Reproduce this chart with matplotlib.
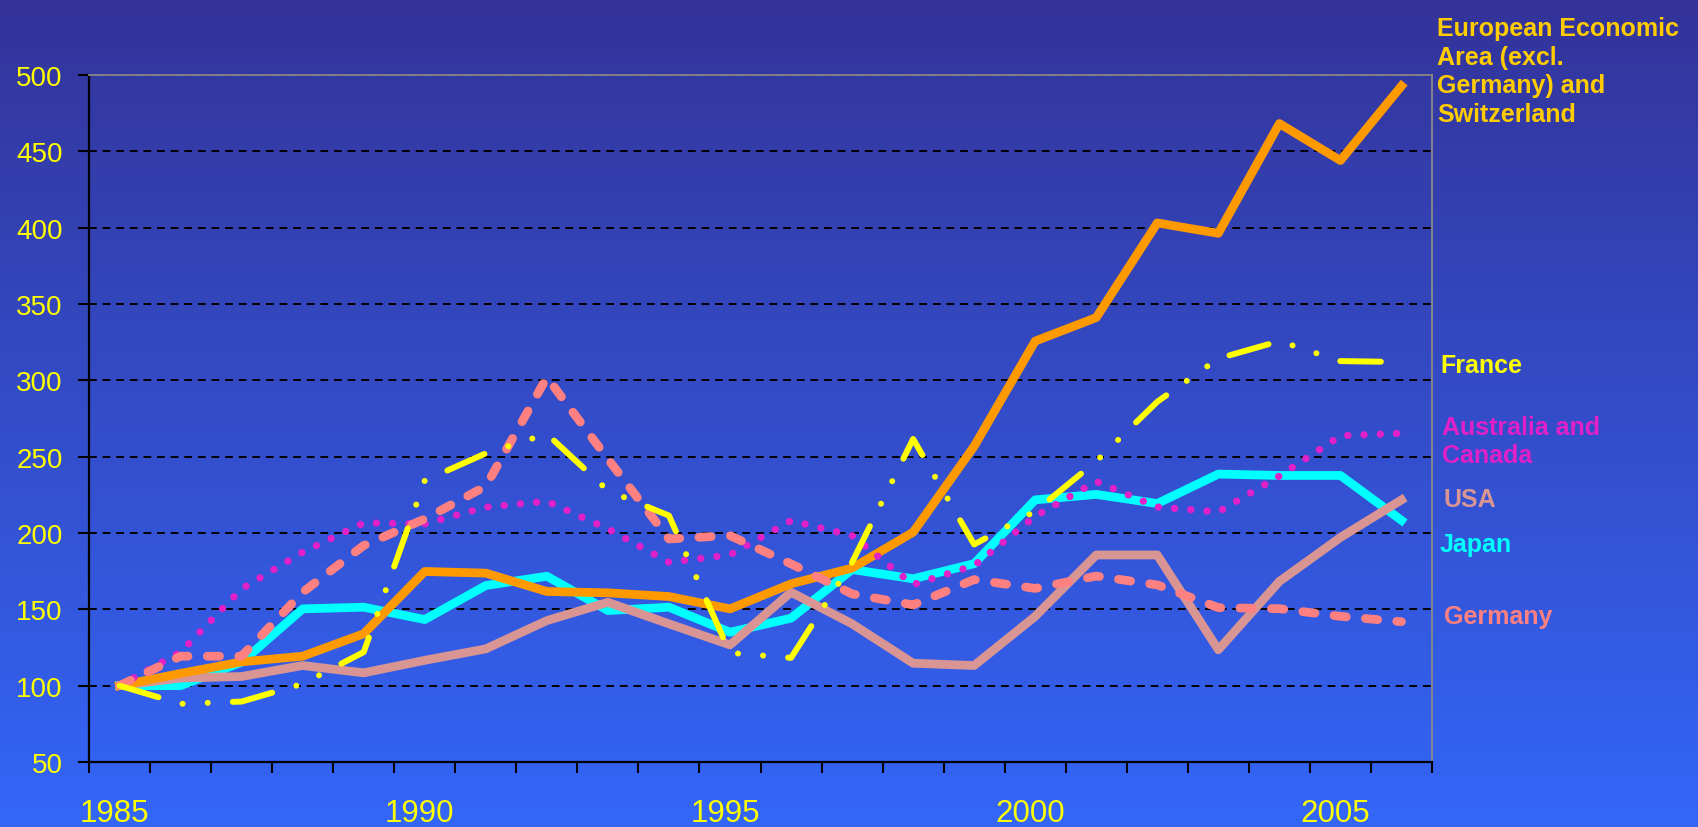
import numpy as np
import matplotlib.pyplot as plt
import matplotlib.transforms as mtransforms
from matplotlib.colors import LinearSegmentedColormap

plt.rcParams['font.family'] = ['Liberation Sans', 'DejaVu Sans']

years = list(range(1985, 2007))
eea = [100, 108, 115.6, 119.3, 134, 174.8, 173.7, 161.7, 160.8, 158.4, 150.3,
       166.7, 177, 200.5, 256.8, 325.7, 341.1, 403.1, 396.3, 468.2, 444, 492.8]
france = [100, 88.1, 89.6, 101.2, 122, 234.3, 252.2, 264.9, 227.8, 211.4, 121.5,
          118.2, 180.8, 261.6, 192.5, 214.3, 247, 286, 314.3, 325.7, 312.6, 312]
aus_can = [100, 122, 163.4, 187.4, 206.6, 206, 216.9, 220.8, 202.7, 180.8, 185.7,
           208.1, 198.3, 166.2, 178.7, 210.9, 233.8, 217, 213.8, 237.3, 263.7, 265.3]
usa = [100, 105, 106, 113.2, 108.4, 116.6, 124.1, 142.6, 154.6, 140.5, 126.7,
       161.2, 140.5, 114.7, 113.2, 145.4, 185.6, 185.6, 123.5, 168.3, 197.1, 221.7]
japan = [100, 100, 115.4, 150.3, 151.4, 143.3, 165.6, 171.7, 149.2, 151.4, 135,
         144.2, 176.1, 170, 179.9, 221.7, 225.3, 219.3, 238.6, 237.7, 237.7, 208.3]
germany = [100, 119.3, 119.3, 161.2, 191.8, 209.2, 230.6, 302, 248.5, 196.1, 198.3,
           179.8, 160.1, 152.9, 169.5, 163.7, 171.8, 166, 151.1, 150.4, 145.4, 141.9]

year_labels = [1985, 1990, 1995, 2000, 2005]

W, H = 1699, 828
fig = plt.figure(figsize=(W / 100, H / 100), dpi=100)

# background gradient
bg = fig.add_axes([0, 0, 1, 1], zorder=0)
cmap = LinearSegmentedColormap.from_list('bg', ['#333399', '#3366F8'])
bg.imshow(np.linspace(0, 1, 256).reshape(-1, 1), aspect='auto', cmap=cmap,
          extent=[0, 1, 0, 1], origin='upper')
bg.axis('off')

ax = fig.add_axes([89 / W, 1 - 763 / H, (1432 - 89) / W, (763 - 76) / H], zorder=1)
ax.patch.set_alpha(0)

x = np.array(years)
ax.plot(x, japan, color='#00FFFF', lw=6.3, solid_joinstyle='round')
ax.plot(x, usa, color='#D99594', lw=6.3, solid_joinstyle='round')
ax.plot(x, eea, color='#FF9900', lw=6.3, solid_joinstyle='round')
ax.plot(x, aus_can, color='#E020C8', lw=5.3, linestyle=(0, (0.01, 2.2)),
        dash_capstyle='round')
ax.plot(x, germany, color='#FF8080', lw=6.3, linestyle=(0, (1.4, 2.2)),
        dash_capstyle='round', dash_joinstyle='round')
ax.plot(x, france, color='#FFFF00', lw=4.3,
        linestyle=(0, (6.8, 4.2, 0.01, 4.2, 0.01, 4.2)),
        dash_capstyle='round', dash_joinstyle='round')

ax.set_xlim(1984.5, 2006.5)
ax.set_ylim(50, 500)
ax.set_yticks(range(50, 501, 50))
ax.yaxis.grid(True, color='black', linestyle=(0, (4, 3)), lw=1.4)
ax.set_axisbelow(True)

ax.set_xticks(np.arange(1984.5, 2007, 1))
ax.set_xticklabels([])
ax.set_xticks(year_labels, minor=True)
ax.set_xticklabels([str(y) for y in year_labels], minor=True)
ax.tick_params(axis='x', which='major', direction='out', length=8, width=1.5, color='black')
ax.tick_params(axis='x', which='minor', length=0, pad=26, labelsize=22.5, labelcolor='#FFFF00')
ax.tick_params(axis='y', direction='out', length=8, width=1.5, color='black',
               labelsize=20, labelcolor='#FFFF00', pad=11)
shift = mtransforms.ScaledTranslation(-5 / 100, 0, fig.dpi_scale_trans)
for t in ax.xaxis.get_minorticklabels():
    t.set_transform(t.get_transform() + shift)

for s in ['left', 'bottom']:
    ax.spines[s].set_color('black')
    ax.spines[s].set_linewidth(1.6)
for s in ['top', 'right']:
    ax.spines[s].set_color('#8A8A8A')
    ax.spines[s].set_linewidth(1.3)

lab = dict(fontsize=18, fontweight='bold', ha='left', va='center', linespacing=1.25)
fig.text(1437 / W, 1 - 72 / H, 'European Economic\nArea (excl.\nGermany) and\nSwitzerland',
         color='#FFCC00', **lab)
fig.text(1440 / W, 1 - 366 / H, 'France', color='#FFFF00', **lab)
fig.text(1442 / W, 1 - 442 / H, 'Australia and\nCanada', color='#E020C8', **lab)
fig.text(1444 / W, 1 - 500 / H, 'USA', color='#D99594', **lab)
fig.text(1440 / W, 1 - 545 / H, 'Japan', color='#00FFFF', **lab)
fig.text(1444 / W, 1 - 617 / H, 'Germany', color='#FF8080', **lab)

fig.savefig('out.png', dpi=100)
